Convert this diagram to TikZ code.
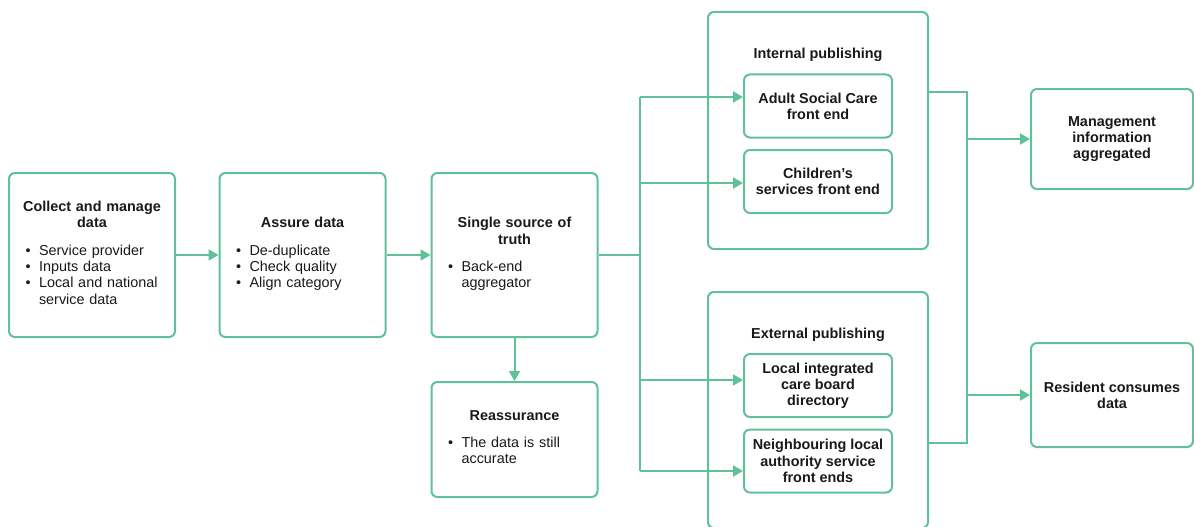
\documentclass[tikz,border=0pt]{standalone}
\usepackage{fontspec}
\setmainfont{Liberation Sans}
\usetikzlibrary{arrows.meta}
\definecolor{mint}{RGB}{96,192,152}
\newcommand{\boxtitle}[1]{{\centering\bfseries #1\par}\vspace{11pt}}
\newcommand{\itemlist}[1]{\noindent\begin{tabular}[t]{@{\hspace{4.5pt}}l@{\hspace{8.5pt}}l@{}}#1\end{tabular}}

\begin{document}
\begin{tikzpicture}[x=1pt, y=-1pt, line width=2pt,
  every node/.style = {font=\fontsize{14.4}{16.4}\selectfont, text=black!90},
  box/.style = {draw=mint, rounded corners=6pt, inner sep=0pt},
  main/.style = {box, text width=142pt, inner xsep=12pt, align=left},
  front/.style = {box, minimum width=148pt, minimum height=63pt, align=center, font=\fontsize{14.4}{16.2}\selectfont\bfseries},
  result/.style = {box, minimum width=162pt, align=center, font=\fontsize{14.4}{16.2}\selectfont\bfseries},
  group/.style = {box, minimum width=220pt},
  heading/.style = {font=\fontsize{14.4}{16.2}\selectfont\bfseries},
  link/.style = {draw=mint},
  arr/.style = {draw=mint, -{Triangle[length=10pt, width=11pt]}}]
\useasboundingbox (0,0) rectangle (1194,527);

\node[main, minimum height=164pt] (collect) at (92,255) {\boxtitle{Collect and manage\\data}
  \itemlist{\textbullet & Service provider\\ \textbullet & Inputs data\\ \textbullet & Local and national\\ & service data}};
\node[main, minimum height=164pt] (assure) at (302.5,255) {\boxtitle{Assure data}
  \itemlist{\textbullet & De-duplicate\\ \textbullet & Check quality\\ \textbullet & Align category}};
\node[main, minimum height=164pt] (truth) at (514.5,255) {\boxtitle{Single source of\\truth}
  \itemlist{\textbullet & Back-end\\ & aggregator}};
\node[main, minimum height=115pt] (reass) at (514.5,439.5) {\boxtitle{Reassurance}
  \itemlist{\textbullet & The data is still\\ & accurate}};

\node[group, minimum height=237pt] (internal) at (818,130.5) {};
\node[group, minimum height=236pt] (external) at (818,410) {};
\node[heading] (intT) at (818,55) {Internal publishing};
\node[heading] (extT) at (818,335) {External publishing};

\node[front] (asc) at (818,106) {Adult Social Care\\front end};
\node[front] (child) at (818,181.5) {Children’s\\services front end};
\node[front] (icb) at (818,385.5) {Local integrated\\care board\\directory};
\node[front] (neigh) at (818,461) {Neighbouring local\\authority service\\front ends};

\node[result, minimum height=100pt] (mgmt) at (1112,139) {Management\\information\\aggregated};
\node[result, minimum height=104pt] (resident) at (1112,395) {Resident consumes\\data};

\draw[arr] (collect) -- (assure);
\draw[arr] (assure) -- (truth);
\draw[arr] (truth) -- (reass);

\coordinate (split) at (640,255);
\coordinate (s1) at (640,97);
\coordinate (s2) at (640,183);
\coordinate (s3) at (640,380);
\coordinate (s4) at (640,471);
\draw[link] (truth) -- (split);
\draw[link] (s1) -- (s4);
\draw[arr] (s1) -- (s1 -| asc.west);
\draw[arr] (s2) -- (s2 -| child.west);
\draw[arr] (s3) -- (s3 -| icb.west);
\draw[arr] (s4) -- (s4 -| neigh.west);

\coordinate (j1) at (967,92);
\coordinate (j4) at (967,443);
\draw[link] (j1 -| internal.east) -- (j1) -- (j4) -- (j4 -| external.east);
\draw[arr] (mgmt.west -| j1) -- (mgmt);
\draw[arr] (resident.west -| j1) -- (resident);
\end{tikzpicture}
\end{document}
